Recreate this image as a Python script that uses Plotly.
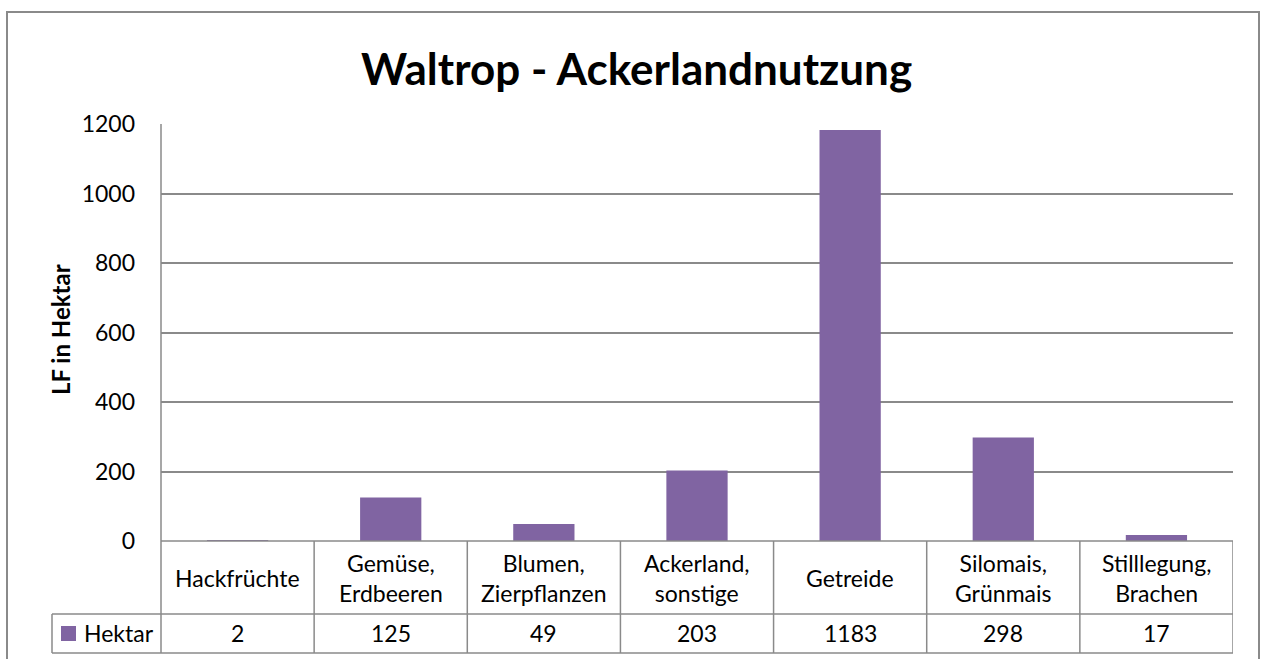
import plotly.graph_objects as go

categories = ["Hackfrüchte", "Gemüse, Erdbeeren", "Blumen, Zierpflanzen", "Ackerland, sonstige",
              "Getreide", "Silomais, Grünmais", "Stilllegung, Brachen"]
values = [2, 125, 49, 203, 1183, 298, 17]
series_name = "Hektar"
title_text = "Waltrop - Ackerlandnutzung"
y_title = "LF in Hektar"
y_ticks = [0, 200, 400, 600, 800, 1000, 1200]

W, H = 1264, 659
L, R, T, B = 161, 1233, 124, 541
pw, ph = R - L, B - T

def px(x):
    return (x - L) / pw

def py(y):
    return (B - y) / ph

GRID = "#8a8a8a"
BAR = "#8064A2"
FONT = "Lato"
FS = 23

n = len(categories)
xs = list(range(n))

fig = go.Figure()
fig.add_trace(go.Bar(x=xs, y=values, width=0.4, marker=dict(color=BAR, line=dict(width=0)),
                     name=series_name, showlegend=False, hoverinfo="x+y"))

shapes = []
# outer chart border
shapes.append(dict(type="rect", xref="paper", yref="paper", x0=px(7), x1=px(1259), y0=py(700), y1=py(12),
                   line=dict(color="#8a8a8a", width=2), layer="below"))
# left axis line extended through table
shapes.append(dict(type="line", xref="paper", yref="paper", x0=0, x1=0, y0=py(653), y1=1,
                   line=dict(color=GRID, width=1.5)))
# table horizontal lines
for yy, x0 in [(541, L), (614, 52), (653, 52)]:
    shapes.append(dict(type="line", xref="paper", yref="paper", x0=px(x0), x1=1, y0=py(yy), y1=py(yy),
                       line=dict(color=GRID, width=1.5)))
# table vertical lines
for i in range(1, n + 1):
    shapes.append(dict(type="line", xref="x", yref="paper", x0=i - 0.5, x1=i - 0.5, y0=py(653), y1=0,
                       line=dict(color=GRID, width=1.5)))
shapes.append(dict(type="line", xref="paper", yref="paper", x0=px(52), x1=px(52), y0=py(653), y1=py(614),
                   line=dict(color=GRID, width=1.5)))
# legend key
shapes.append(dict(type="rect", xref="paper", yref="paper", x0=px(61), x1=px(76), y0=py(641), y1=py(626),
                   fillcolor=BAR, line=dict(width=0)))

annotations = []
for i, c in enumerate(categories):
    annotations.append(dict(x=i, xref="x", y=py(578), yref="paper", text=c.replace(", ", ",<br>"),
                            showarrow=False, font=dict(family=FONT, size=FS, color="#000"),
                            xanchor="center", yanchor="middle"))
    annotations.append(dict(x=i, xref="x", y=py(633), yref="paper", text=str(values[i]),
                            showarrow=False, font=dict(family=FONT, size=FS, color="#000"),
                            xanchor="center", yanchor="middle"))
annotations.append(dict(x=px(82), xref="paper", y=py(633), yref="paper", text=series_name,
                        showarrow=False, font=dict(family=FONT, size=FS, color="#000"),
                        xanchor="left", yanchor="middle"))
annotations.append(dict(x=px(636), xref="paper", y=py(68), yref="paper", text="<b>" + title_text + "</b>",
                        showarrow=False, font=dict(family=FONT, size=44, color="#000"),
                        xanchor="center", yanchor="middle"))
annotations.append(dict(x=px(60), xref="paper", y=py(330), yref="paper", text="<b>" + y_title + "</b>",
                        showarrow=False, textangle=-90, font=dict(family=FONT, size=24, color="#000"),
                        xanchor="center", yanchor="middle"))

fig.update_layout(
    width=W, height=H,
    margin=dict(l=L, r=W - R, t=T, b=H - B, pad=0),
    paper_bgcolor="white", plot_bgcolor="white",
    xaxis=dict(range=[-0.5, n - 0.5], showticklabels=False, showgrid=False, zeroline=False,
               showline=False, ticks="", fixedrange=True),
    yaxis=dict(range=[0, 1200], tickvals=y_ticks, showgrid=True, gridcolor=GRID, gridwidth=1.5,
               zeroline=False, showline=False, ticks="", ticklabelstandoff=25,
               tickfont=dict(family=FONT, size=FS, color="#000"), fixedrange=True),
    shapes=shapes, annotations=annotations,
    bargap=0.6, showlegend=False,
)

fig.write_html("out.html", config={"displayModeBar": False},
               post_script="document.body.style.margin='0';document.body.style.overflow='hidden';")
